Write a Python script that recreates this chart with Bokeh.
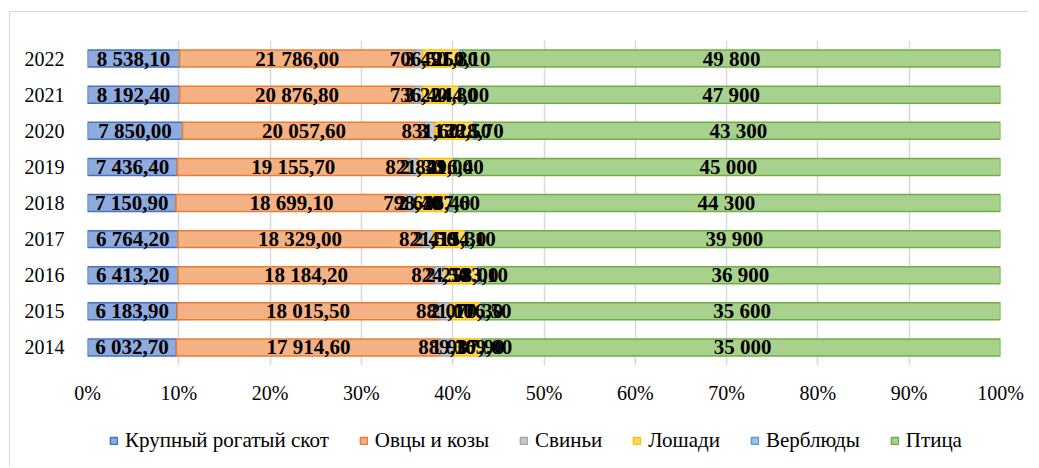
from bokeh.plotting import figure
from bokeh.layouts import column
from bokeh.models import (ColumnDataSource, FactorRange, Range1d, FixedTicker,
                          Legend, LegendItem, CustomJSTickFormatter)
from bokeh.core.properties import value
from bokeh.embed import file_html
from bokeh.resources import INLINE

years = ["2014", "2015", "2016", "2017", "2018", "2019", "2020", "2021", "2022"]
krs = [6032.7, 6183.9, 6413.2, 6764.2, 7150.9, 7436.4, 7850.0, 8192.4, 8538.1]
ovcy = [17914.6, 18015.5, 18184.2, 18329.0, 18699.1, 19155.7, 20057.6, 20876.8, 21786.0]
pigs = [889.3, 881.0, 824.5, 821.5, 798.4, 821.3, 831.6, 736.4, 706.5]
horses = [1937.9, 2070.3, 2258.0, 2415.3, 2646.4, 2849.0, 3138.5, 3224.8, 3491.8]
camels = [169.0, 176.5, 183.1, 194.1, 207.6, 216.4, 228.7, 244.0, 250.1]
birds = [35000, 35600, 36900, 39900, 44300, 45000, 43300, 47900, 49800]

names = ["Крупный рогатый скот", "Овцы и козы", "Свиньи", "Лошади", "Верблюды", "Птица"]
series = [krs, ovcy, pigs, horses, camels, birds]
fills = ["#8FAADC", "#F4B183", "#C9C9C9", "#FFD966", "#9DC3E6", "#A9D18E"]
lines = ["#4472C4", "#ED7D31", "#A5A5A5", "#FFC000", "#5B9BD5", "#70AD47"]
decimals = [2, 2, 2, 2, 2, 0]
xticks = [0, 0.1, 0.2, 0.3, 0.4, 0.5, 0.6, 0.7, 0.8, 0.9, 1.0]

FONT = "Liberation Serif"


def fmt(v, d):
    s = f"{v:,.{d}f}"
    return s.replace(",", " ").replace(".", ",")


totals = [sum(s[i] for s in series) for i in range(len(years))]
keys = [f"s{k}" for k in range(len(series))]
data = {"year": years}
for k, s in zip(keys, series):
    data[k] = [s[i] / totals[i] for i in range(len(years))]
src = ColumnDataSource(data)

p = figure(frame_width=913, frame_height=325, output_backend="svg", toolbar_location=None,
           y_range=FactorRange(factors=years, range_padding=0),
           x_range=Range1d(0, 1))
p.min_border_left = 77
p.min_border_right = 28
p.min_border_top = 28
p.min_border_bottom = 40
p.outline_line_color = None

renderers = p.hbar_stack(keys, y="year", height=0.47, source=src,
                         fill_color=fills, line_color=lines, line_width=1.5)

# labels
lx, ly, lt = [], [], []
for i, yr in enumerate(years):
    cum = 0.0
    for k, s in enumerate(series):
        frac = s[i] / totals[i]
        lx.append(cum + frac / 2)
        ly.append(yr)
        lt.append(fmt(s[i], decimals[k]))
        cum += frac
p.text(x=lx, y=ly, text=lt, text_font=value(FONT), text_font_style="bold",
       text_font_size="21px", text_align="center", text_baseline="middle",
       text_color="black")

p.xaxis.ticker = FixedTicker(ticks=xticks)
p.xaxis.formatter = CustomJSTickFormatter(code="return Math.round(tick*100) + '%';")
p.xaxis.axis_line_color = None
p.xaxis.major_tick_line_color = None
p.xaxis.minor_tick_line_color = None
p.xaxis.major_label_text_font = FONT
p.xaxis.major_label_text_font_size = "20px"
p.xaxis.major_label_text_color = "black"
p.xaxis.major_label_standoff = 10

p.yaxis.axis_line_color = None
p.yaxis.major_tick_line_color = None
p.yaxis.major_label_text_font = FONT
p.yaxis.major_label_text_font_size = "20px"
p.yaxis.major_label_text_color = "black"
p.yaxis.major_label_standoff = 17

p.xgrid.grid_line_color = "#D9D9D9"
p.xgrid.grid_line_width = 1.5
p.ygrid.grid_line_color = None

# legend figure (same stacked series, hidden; only its legend is shown)
lg = figure(width=1018, height=60, output_backend="svg", toolbar_location=None,
            x_range=Range1d(0, 1), y_range=FactorRange(factors=years),
            x_axis_type=None, y_axis_type=None, min_border=0)
lg.outline_line_color = None
lg.grid.grid_line_color = None
lg_renderers = lg.hbar_stack(keys, y="year", height=0.47, source=src,
                             fill_color=fills, line_color=lines, line_width=1.5,
                             visible=False)
items = [LegendItem(label=n, renderers=[r]) for n, r in zip(names, lg_renderers)]
legend = Legend(items=items, orientation="horizontal", location=(22, 13),
                label_text_font=FONT, label_text_font_size="21px",
                label_text_color="black", glyph_width=9, glyph_height=9,
                label_standoff=7, spacing=30, border_line_color=None,
                background_fill_alpha=0, margin=0, padding=4,
                inactive_fill_alpha=0)
lg.add_layout(legend, "center")

layout = column(p, lg, spacing=0)
layout.styles = {"margin-left": "9px", "margin-top": "11px",
                 "border-left": "1px solid #D9D9D9", "border-top": "1px solid #D9D9D9"}

open("out.html", "w").write(file_html(layout, INLINE))
